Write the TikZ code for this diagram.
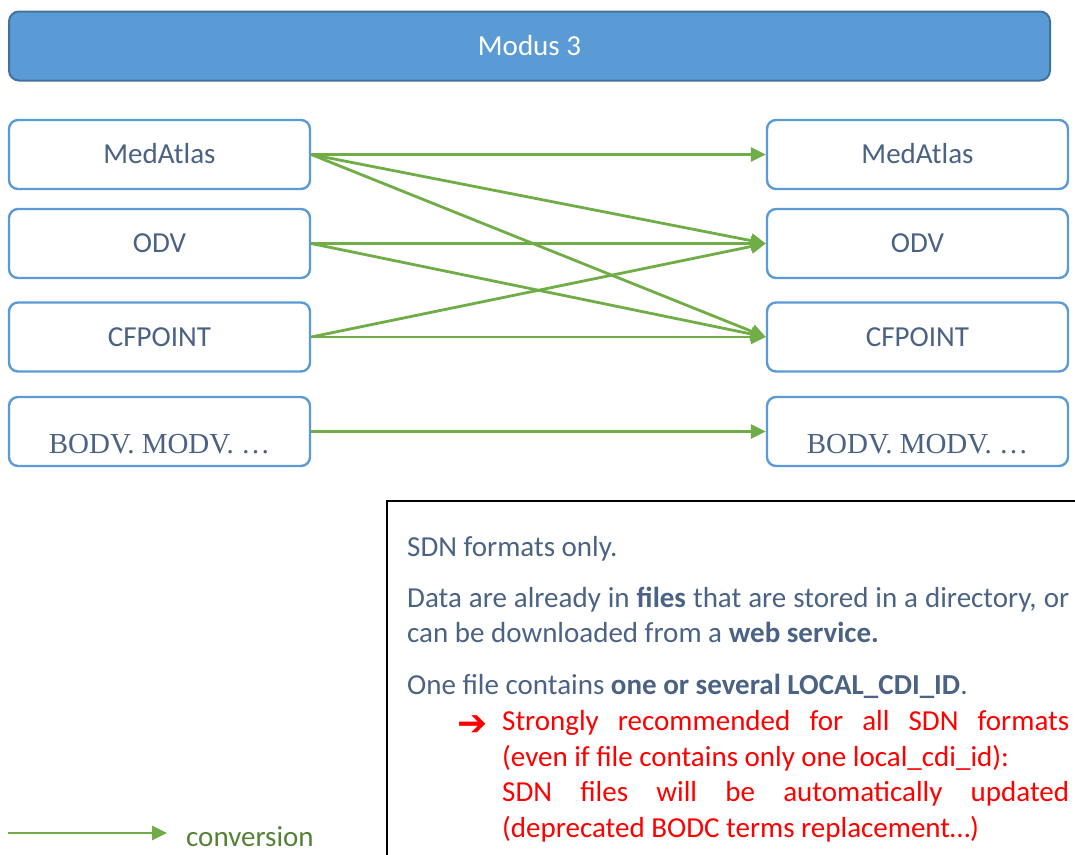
\documentclass[tikz,border=0pt]{standalone}
\usepackage{fontspec}
\setmainfont{Carlito}
\newfontfamily\serifface{Liberation Serif}
\newfontfamily\symface{DejaVu Sans}
\usetikzlibrary{arrows.meta}
\definecolor{barfill}{HTML}{5B9BD5}
\definecolor{barline}{HTML}{41719C}
\definecolor{boxline}{HTML}{5B9BD5}
\definecolor{ink}{HTML}{4A6283}
\definecolor{flow}{HTML}{70AD47}
\definecolor{legendtext}{HTML}{548235}
\definecolor{alert}{HTML}{FF0000}

\begin{document}
\begin{tikzpicture}[x=1pt,y=-1pt,
  fmt/.style={draw=boxline, line width=2.4pt, fill=white, rounded corners=9pt,
    minimum width=301pt, minimum height=69pt, inner sep=0pt, text=ink,
    font=\fontsize{29}{35}\selectfont, text height=18.7pt, text depth=0pt},
  oldfmt/.style={fmt, font=\fontsize{29}{35}\selectfont\serifface,
    text height=43pt, text depth=0pt},
  conv/.style={draw=flow, line width=2.8pt, -{Triangle[length=15pt,width=14pt]}},
  body/.style={anchor=base west, inner sep=0pt, text=ink,
    font=\fontsize{29}{35}\selectfont},
]
\useasboundingbox (0,0) rectangle (1075,854);
\clip (0,0) rectangle (1075,854);

% title bar
\node[draw=barline, fill=barfill, line width=2pt, rounded corners=10pt,
  minimum width=1041pt, minimum height=69pt, inner sep=0pt, text=white,
  font=\fontsize{29}{35}\selectfont, text height=18.7pt, text depth=0pt]
  (bar) at (529.5,46) {Modus 3};

% source formats
\node[fmt] (lmed) at (159.5,154.5) {MedAtlas};
\node[fmt] (lodv) at (159.5,243.5) {ODV};
\node[fmt] (lcf)  at (159.5,337)   {CFPOINT};
\node[oldfmt] (lold) at (159.5,431.5) {BODV. MODV. …};

% target formats
\node[fmt] (rmed) at (917.5,154.5) {MedAtlas};
\node[fmt] (rodv) at (917.5,243.5) {ODV};
\node[fmt] (rcf)  at (917.5,337)   {CFPOINT};
\node[oldfmt] (rold) at (917.5,431.5) {BODV. MODV. …};

% conversions
\draw[conv] (lmed.east) -- (rmed.west);
\draw[conv] (lmed.east) -- (rodv.west);
\draw[conv] (lmed.east) -- (rcf.west);
\draw[conv] (lodv.east) -- (rodv.west);
\draw[conv] (lodv.east) -- (rcf.west);
\draw[conv] (lcf.east) -- (rodv.west);
\draw[conv] (lcf.east) -- (rcf.west);
\draw[conv] (lold.east) -- (rold.west);

% notes
\draw[black, line width=1.5pt] (387,501) rectangle (1095,880);
\node[body] (n1) at (407,556) {SDN formats only.};
\node[body] (n2) at (407,607) {\makebox[662pt][s]{Data are already in \textbf{files} that are stored in a directory, or}};
\node[body] (n3) at (407,642) {can be downloaded from a \textbf{web service.}};
\node[body] (n4) at (407,694) {One file contains \textbf{one or several LOCAL\_CDI\_ID}.};
\node[body, text=alert, font=\fontsize{36}{36}\symface\bfseries] (mark) at (457,735) {➔};
\node[body, text=alert] (r1) at (502,730) {\makebox[567pt][s]{Strongly recommended for all SDN formats}};
\node[body, text=alert] (r2) at (502,766) {(even if file contains only one local\_cdi\_id):};
\node[body, text=alert] (r3) at (502,801) {\makebox[567pt][s]{SDN files will be automatically updated}};
\node[body, text=alert] (r4) at (502,837) {(deprecated BODC terms replacement…)};

% legend
\coordinate (lg0) at (8,833);
\coordinate (lg1) at (167,833);
\draw[conv] (lg0) -- (lg1);
\node[body, text=legendtext] (lgt) at (186,846) {conversion};
\end{tikzpicture}
\end{document}
